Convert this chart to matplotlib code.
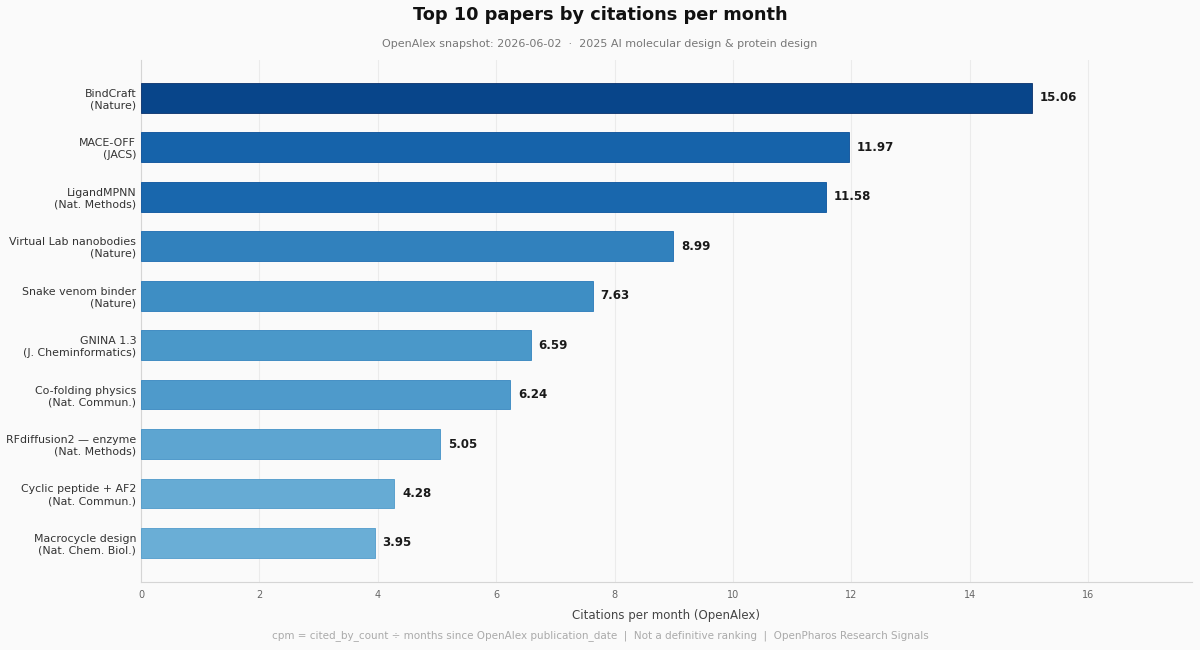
import matplotlib
matplotlib.use("Agg")
import matplotlib.pyplot as plt
import numpy as np

labels = [
    "BindCraft\n(Nature)",
    "MACE-OFF\n(JACS)",
    "LigandMPNN\n(Nat. Methods)",
    "Virtual Lab nanobodies\n(Nature)",
    "Snake venom binder\n(Nature)",
    "GNINA 1.3\n(J. Cheminformatics)",
    "Co-folding physics\n(Nat. Commun.)",
    "RFdiffusion2 \u2014 enzyme\n(Nat. Methods)",
    "Cyclic peptide + AF2\n(Nat. Commun.)",
    "Macrocycle design\n(Nat. Chem. Biol.)",
]
values = [15.06, 11.97, 11.58, 8.99, 7.63, 6.59, 6.24, 5.05, 4.28, 3.95]
xticks = [0, 2, 4, 6, 8, 10, 12, 14, 16]

plt.rcParams['font.family'] = ['DejaVu Sans']
fig = plt.figure(figsize=(12, 6.5), dpi=100, facecolor="#fafafa")
ax = fig.add_axes([0.1175, 0.1046, 0.8755, 0.8034], facecolor="#fafafa")

vals = np.array(values)
norm = (vals - vals.min()) / (vals.max() - vals.min())
colors = plt.cm.Blues(0.5 + 0.42 * norm)
edge = plt.cm.Blues(0.58 + 0.42 * norm)
y = np.arange(len(values))
ax.barh(y, vals, height=0.6, color=colors, edgecolor=edge, linewidth=0.6, zorder=3)
for yi, v in zip(y, vals):
    ax.text(v + 0.13, yi, f"{v:.2f}", va="center", ha="left", fontsize=8.5,
            fontweight="bold", color="#1a1a1a", zorder=4)

ax.set_yticks(y)
ax.set_yticklabels(labels, fontsize=7.9, color="#333333")
ax.set_ylim(len(values) - 1 + 0.79, -0.77)
ax.set_xlim(0, 17.75)
ax.set_xticks(xticks)
ax.set_xticklabels([str(t) for t in xticks], fontsize=7, color="#666666")
ax.tick_params(axis="both", length=0)
ax.tick_params(axis="x", pad=6)
ax.tick_params(axis="y", pad=3.5)
ax.grid(axis="x", color="#ebebeb", linewidth=0.8, zorder=0)
for s in ["top", "right"]:
    ax.spines[s].set_visible(False)
for s in ["left", "bottom"]:
    ax.spines[s].set_color("#d5d5d5")
    ax.spines[s].set_linewidth(0.8)

ax.set_xlabel("Citations per month (OpenAlex)", fontsize=8.5, color="#444444", labelpad=6)

fig.text(0.5, 1 - 15/650, "Top 10 papers by citations per month", ha="center", va="center",
         fontsize=12.8, fontweight="bold", color="#111111")
fig.text(0.5, 1 - 44/650, "OpenAlex snapshot: 2026-06-02  \u00b7  2025 AI molecular design & protein design",
         ha="center", va="center", fontsize=8, color="#777777")
fig.text(0.5, 1 - 636/650,
         "cpm = cited_by_count \u00f7 months since OpenAlex publication_date  |  Not a definitive ranking  |  OpenPharos Research Signals",
         ha="center", va="center", fontsize=7.5, color="#aaaaaa")

fig.savefig("out.png", dpi=100, facecolor=fig.get_facecolor())
